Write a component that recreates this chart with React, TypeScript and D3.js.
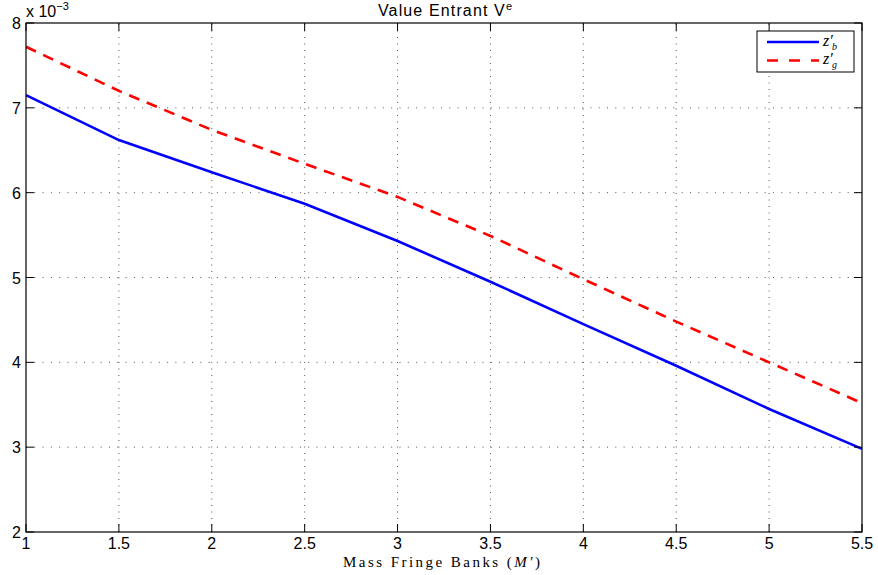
import * as d3 from "d3";

// x values (Mass Fringe Banks M')
const massValues = [1, 1.5, 2, 2.5, 3, 3.5, 4, 4.5, 5, 5.5];
// Value entrant V^e, in units of 1e-3
const zbValues = [7.15, 6.62, 6.24, 5.87, 5.43, 4.95, 4.45, 3.96, 3.45, 2.98];
const zgValues = [7.72, 7.2, 6.74, 6.34, 5.95, 5.49, 4.98, 4.48, 4.0, 3.52];

const xTicks = [1, 1.5, 2, 2.5, 3, 3.5, 4, 4.5, 5, 5.5];
const yTicks = [2, 3, 4, 5, 6, 7, 8];

const width = 878;
const height = 575;
const margin = { top: 23, right: 16, bottom: 43, left: 26 };

const sansFont = "'Liberation Sans', Arial, sans-serif";
const serifFont = "'Liberation Serif', 'DejaVu Serif', serif";

export default function App() {
  const x = d3
    .scaleLinear()
    .domain([1, 5.5])
    .range([margin.left, width - margin.right]);
  const y = d3
    .scaleLinear()
    .domain([2, 8])
    .range([height - margin.bottom, margin.top]);

  const line = d3
    .line<number>()
    .x((_, i) => x(massValues[i]))
    .y((d) => y(d));

  const x0 = x.range()[0];
  const x1 = x.range()[1];
  const y0 = y.range()[0];
  const y1 = y.range()[1];
  const tick = 8;

  // legend box
  const lg = { x: 757, y: 31, w: 97, h: 41 };

  return (
    <svg
      width={width}
      height={height}
      style={{ position: "absolute", left: 0, top: 0, background: "#fff" }}
    >
      <rect x={0} y={0} width={width} height={height} fill="#fff" />

      {/* grid */}
      <g stroke="#555" strokeWidth={1}>
        {xTicks.slice(1, -1).map((t) => (
          <line
            key={"gx" + t}
            x1={x(t)}
            x2={x(t)}
            y1={y0}
            y2={y1}
            strokeDasharray="1,5.5"
          />
        ))}
        {yTicks.slice(1, -1).map((t) => (
          <line
            key={"gy" + t}
            x1={x0}
            x2={x1}
            y1={y(t)}
            y2={y(t)}
            strokeDasharray="1,7.3"
          />
        ))}
      </g>

      {/* data lines */}
      <path
        d={line(zbValues) ?? ""}
        fill="none"
        stroke="#0000ff"
        strokeWidth={2.6}
      />
      <path
        d={line(zgValues) ?? ""}
        fill="none"
        stroke="#ff0000"
        strokeWidth={2.6}
        strokeDasharray="11,8"
      />

      {/* box and ticks */}
      <rect
        x={x0}
        y={y1}
        width={x1 - x0}
        height={y0 - y1}
        fill="none"
        stroke="#000"
        strokeWidth={1.2}
      />
      <g stroke="#000" strokeWidth={1}>
        {xTicks.map((t) => (
          <g key={"tx" + t}>
            <line x1={x(t)} x2={x(t)} y1={y0} y2={y0 - tick} />
            <line x1={x(t)} x2={x(t)} y1={y1} y2={y1 + tick} />
          </g>
        ))}
        {yTicks.map((t) => (
          <g key={"ty" + t}>
            <line x1={x0} x2={x0 + tick} y1={y(t)} y2={y(t)} />
            <line x1={x1} x2={x1 - tick} y1={y(t)} y2={y(t)} />
          </g>
        ))}
      </g>

      {/* tick labels */}
      <g fontFamily={sansFont} fontSize={16} fill="#000">
        {xTicks.map((t) => (
          <text key={"lx" + t} x={x(t)} y={y0 + 17} textAnchor="middle">
            {t}
          </text>
        ))}
        {yTicks.map((t) => (
          <text
            key={"ly" + t}
            x={x0 - 5}
            y={y(t) + 6}
            textAnchor="end"
          >
            {t}
          </text>
        ))}
        <text x={x0} y={17} fontSize={16}>
          x 10
          <tspan dy={-7} fontSize={11}>
            −3
          </tspan>
        </text>
      </g>

      {/* title */}
      <text
        x={378}
        y={16}
        fontFamily={sansFont}
        fontSize={16}
        textLength={134}
        lengthAdjust="spacing"
      >
        Value Entrant V
        <tspan dy={-6} fontSize={11}>
          e
        </tspan>
      </text>

      {/* x label */}
      <text
        x={343}
        y={567}
        fontFamily={serifFont}
        fontSize={15}
        textLength={197}
        lengthAdjust="spacing"
      >
        Mass Fringe Banks (<tspan fontStyle="italic">M′</tspan>)
      </text>

      {/* legend */}
      <rect
        x={lg.x}
        y={lg.y}
        width={lg.w}
        height={lg.h}
        fill="#fff"
        stroke="#000"
        strokeWidth={1}
      />
      <line
        x1={767}
        x2={819}
        y1={42}
        y2={42}
        stroke="#0000ff"
        strokeWidth={2.6}
      />
      <line
        x1={767}
        x2={819}
        y1={60.5}
        y2={60.5}
        stroke="#ff0000"
        strokeWidth={2.6}
        strokeDasharray="11,11"
      />
      <g fontFamily={serifFont} fontStyle="italic" fill="#000">
        <text x={823} y={46} fontSize={16}>
          z′
        </text>
        <text x={832} y={50} fontSize={10}>
          b
        </text>
        <text x={823} y={64} fontSize={16}>
          z′
        </text>
        <text x={832} y={68} fontSize={10}>
          g
        </text>
      </g>
    </svg>
  );
}
